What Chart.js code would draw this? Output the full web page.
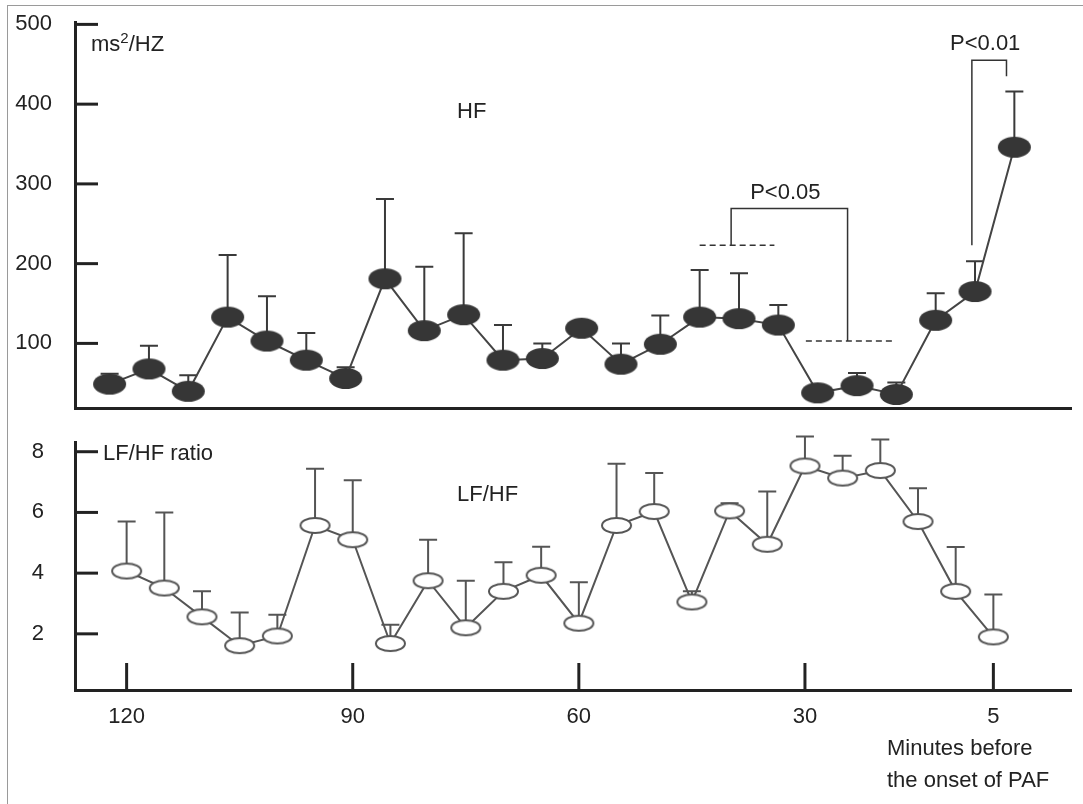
<!DOCTYPE html>
<html>
<head>
<meta charset="utf-8">
<script src="https://cdn.jsdelivr.net/npm/chart.js@4"></script>
<style>
  body { margin: 0; background: #fff; }
  #wrap { position: relative; width: 1083px; height: 804px; overflow: hidden;
          font-family: "Liberation Sans", Arial, sans-serif; color: #222; }
  #frame { position: absolute; left: 7px; top: 5px; right: -4px; bottom: -4px;
           border-left: 1.5px solid #9a9a9a; border-top: 1.5px solid #9a9a9a; }
  canvas { position: absolute; left: 0; }
  .lbl { position: absolute; font-size: 22px; line-height: 22px; white-space: nowrap; }
  .lbl sup { font-size: 15px; line-height: 0; vertical-align: 8px; }
</style>
</head>
<body>
<div id="wrap">
  <div id="frame"></div>
  <canvas id="hfChart" width="1083" height="420" style="top:0"></canvas>
  <canvas id="ratioChart" width="1083" height="384" style="top:420px"></canvas>
  <div class="lbl" style="left:91px; top:33px">ms<sup>2</sup>/HZ</div>
  <div class="lbl" style="left:457px; top:100px">HF</div>
  <div class="lbl" style="left:103px; top:442px">LF/HF ratio</div>
  <div class="lbl" style="left:457px; top:483px">LF/HF</div>
  <div class="lbl" style="left:887px; top:737px">Minutes before</div>
  <div class="lbl" style="left:887px; top:769px">the onset of PAF</div>
</div>
<script>
// minutes before onset, one sample every 5 min
const minutes = [120, 115, 110, 105, 100, 95, 90, 85, 80, 75, 70, 65, 60, 55, 50, 45, 40, 35, 30, 25, 20, 15, 10, 5];

// HF power (ms2/Hz): mean and top of error bar
const hfMean  = [49, 68, 40, 133, 103, 79, 56, 181, 116, 136, 79, 81, 119, 74, 99, 133, 131, 123, 38, 47, 36, 129, 165, 346];
const hfUpper = [62, 97, 60, 211, 159, 113, 70, 281, 196, 238, 123, 100, null, 100, 135, 192, 188, 148, null, 63, 51, 163, 203, 416];

// LF/HF ratio: mean and top of error bar
const ratioMean  = [4.07, 3.51, 2.56, 1.61, 1.93, 5.57, 5.1, 1.68, 3.75, 2.2, 3.4, 3.93, 2.35, 5.57, 6.03, 3.05, 6.05, 4.95, 7.53, 7.13, 7.38, 5.7, 3.4, 1.9];
const ratioUpper = [5.7, 6.0, 3.4, 2.7, 2.63, 7.44, 7.06, 2.3, 5.1, 3.75, 4.36, 4.87, 3.7, 7.6, 7.3, 3.4, 6.3, 6.69, 8.5, 7.87, 8.4, 6.8, 4.86, 3.3];

const hfTicks = [100, 200, 300, 400, 500];
const ratioTicks = [2, 4, 6, 8];
const minuteTicks = [120, 90, 60, 30, 5];

// significance marks on the HF panel (data units)
const hfRefLines = [
  { from: 45, to: 35.5, y: 223 },
  { from: 31.5, to: 20.3, y: 103 }
];
const hfBrackets = [
  { label: "P<0.05", x1: 41, y1: 223, x2: 26.2, y2: 103, top: 269 },
  { label: "P<0.01", x1: 10.4, y1: 223, x2: 6, y2: 435, top: 455 }
];

const FONT = '"Liberation Sans", Arial, sans-serif';
const INK = "#222";

function ellipse(w, h, fill, stroke, lw) {
  const c = document.createElement("canvas");
  c.width = w + 4; c.height = h + 4;
  const g = c.getContext("2d");
  g.beginPath();
  g.ellipse(c.width / 2, c.height / 2, w / 2, h / 2, 0, 0, Math.PI * 2);
  g.fillStyle = fill; g.fill();
  if (lw) { g.lineWidth = lw; g.strokeStyle = stroke; g.stroke(); }
  return c;
}

function errorBars(upper, color) {
  return {
    id: "errorBars",
    beforeDatasetsDraw(chart) {
      const meta = chart.getDatasetMeta(0);
      const ys = chart.scales.y;
      const ctx = chart.ctx;
      ctx.save();
      ctx.strokeStyle = color;
      ctx.lineWidth = 2;
      upper.forEach((u, i) => {
        if (u == null) return;
        const p = meta.data[i];
        const yt = ys.getPixelForValue(u);
        ctx.beginPath();
        ctx.moveTo(p.x, p.y); ctx.lineTo(p.x, yt);
        ctx.moveTo(p.x - 9, yt); ctx.lineTo(p.x + 9, yt);
        ctx.stroke();
      });
      ctx.restore();
    }
  };
}

// ticks pointing into the plot
const inwardTicks = {
  id: "inwardTicks",
  afterDraw(chart) {
    const ctx = chart.ctx, a = chart.chartArea;
    ctx.save();
    ctx.strokeStyle = INK;
    ctx.lineWidth = 3;
    chart.scales.y.ticks.forEach(t => {
      const py = chart.scales.y.getPixelForValue(t.value);
      ctx.beginPath(); ctx.moveTo(a.left, py); ctx.lineTo(a.left + 23, py); ctx.stroke();
    });
    const xs = chart.scales.x;
    if (xs.options.ticks.display) {
      xs.ticks.forEach(t => {
        const px = xs.getPixelForValue(t.value);
        ctx.beginPath(); ctx.moveTo(px, a.bottom); ctx.lineTo(px, a.bottom - 27); ctx.stroke();
      });
    }
    ctx.restore();
  }
};

const significance = {
  id: "significance",
  afterDatasetsDraw(chart) {
    const ctx = chart.ctx, xs = chart.scales.x, ys = chart.scales.y;
    ctx.save();
    ctx.strokeStyle = "#333";
    ctx.lineWidth = 1.5;
    ctx.setLineDash([6, 4]);
    hfRefLines.forEach(r => {
      const py = ys.getPixelForValue(r.y);
      ctx.beginPath();
      ctx.moveTo(xs.getPixelForValue(r.from), py);
      ctx.lineTo(xs.getPixelForValue(r.to), py);
      ctx.stroke();
    });
    ctx.setLineDash([]);
    ctx.fillStyle = INK;
    ctx.font = "22px " + FONT;
    ctx.textAlign = "center";
    hfBrackets.forEach(b => {
      const x1 = xs.getPixelForValue(b.x1), x2 = xs.getPixelForValue(b.x2);
      const top = ys.getPixelForValue(b.top);
      ctx.beginPath();
      ctx.moveTo(x1, ys.getPixelForValue(b.y1));
      ctx.lineTo(x1, top);
      ctx.lineTo(x2, top);
      ctx.lineTo(x2, ys.getPixelForValue(b.y2));
      ctx.stroke();
      ctx.fillText(b.label, (x1 + x2) / 2 - 4, top - 10);
    });
    ctx.restore();
  }
};

Chart.defaults.font.family = FONT;
Chart.defaults.color = INK;

function panel(canvasId, opts) {
  return new Chart(document.getElementById(canvasId), {
    type: "line",
    data: {
      datasets: [{
        data: minutes.map((m, i) => ({ x: m, y: opts.mean[i] })),
        borderColor: opts.lineColor,
        borderWidth: 2,
        pointStyle: opts.marker,
        pointRadius: 10,
        pointHoverRadius: 10,
        tension: 0,
        clip: false
      }]
    },
    options: {
      responsive: false,
      animation: false,
      events: [],
      layout: { padding: { top: 22, right: 5, left: 0, bottom: 0 } },
      plugins: { legend: { display: false }, tooltip: { enabled: false } },
      scales: {
        x: {
          type: "linear",
          reverse: true,
          min: opts.xMin,
          max: opts.xMax,
          grid: { display: false },
          border: { color: INK, width: 3 },
          afterBuildTicks: s => { s.ticks = minuteTicks.map(v => ({ value: v })); },
          afterFit: s => { s.height = opts.xHeight; s.paddingLeft = 0; s.paddingRight = 0; },
          ticks: { display: opts.showX, font: { size: 22 }, padding: 6, maxRotation: 0 }
        },
        y: {
          min: opts.yMin,
          max: opts.yMax,
          grid: { display: false },
          border: { color: INK, width: 3 },
          afterBuildTicks: s => { s.ticks = opts.yTicks.map(v => ({ value: v })); },
          afterFit: s => { s.width = 75; s.paddingTop = 0; s.paddingBottom = 0; },
          ticks: { font: { size: 22 }, padding: opts.yPad }
        }
      }
    },
    plugins: opts.plugins
  });
}

panel("hfChart", {
  mean: hfMean,
  lineColor: "#444",
  marker: ellipse(33, 21, "#363636", null, 0),
  xMin: -2.2, xMax: 124.4, xHeight: 11, showX: false,
  yMin: 19, yMax: 503, yTicks: hfTicks, yPad: 15,
  plugins: [errorBars(hfUpper, "#3a3a3a"), inwardTicks, significance]
});

panel("ratioChart", {
  mean: ratioMean,
  lineColor: "#555",
  marker: ellipse(29, 15, "#fff", "#555", 2),
  xMin: -5.3, xMax: 126.85, xHeight: 114, showX: true,
  yMin: 0.15, yMax: 8.32, yTicks: ratioTicks, yPad: 23,
  plugins: [errorBars(ratioUpper, "#555"), inwardTicks]
});
</script>
</body>
</html>
